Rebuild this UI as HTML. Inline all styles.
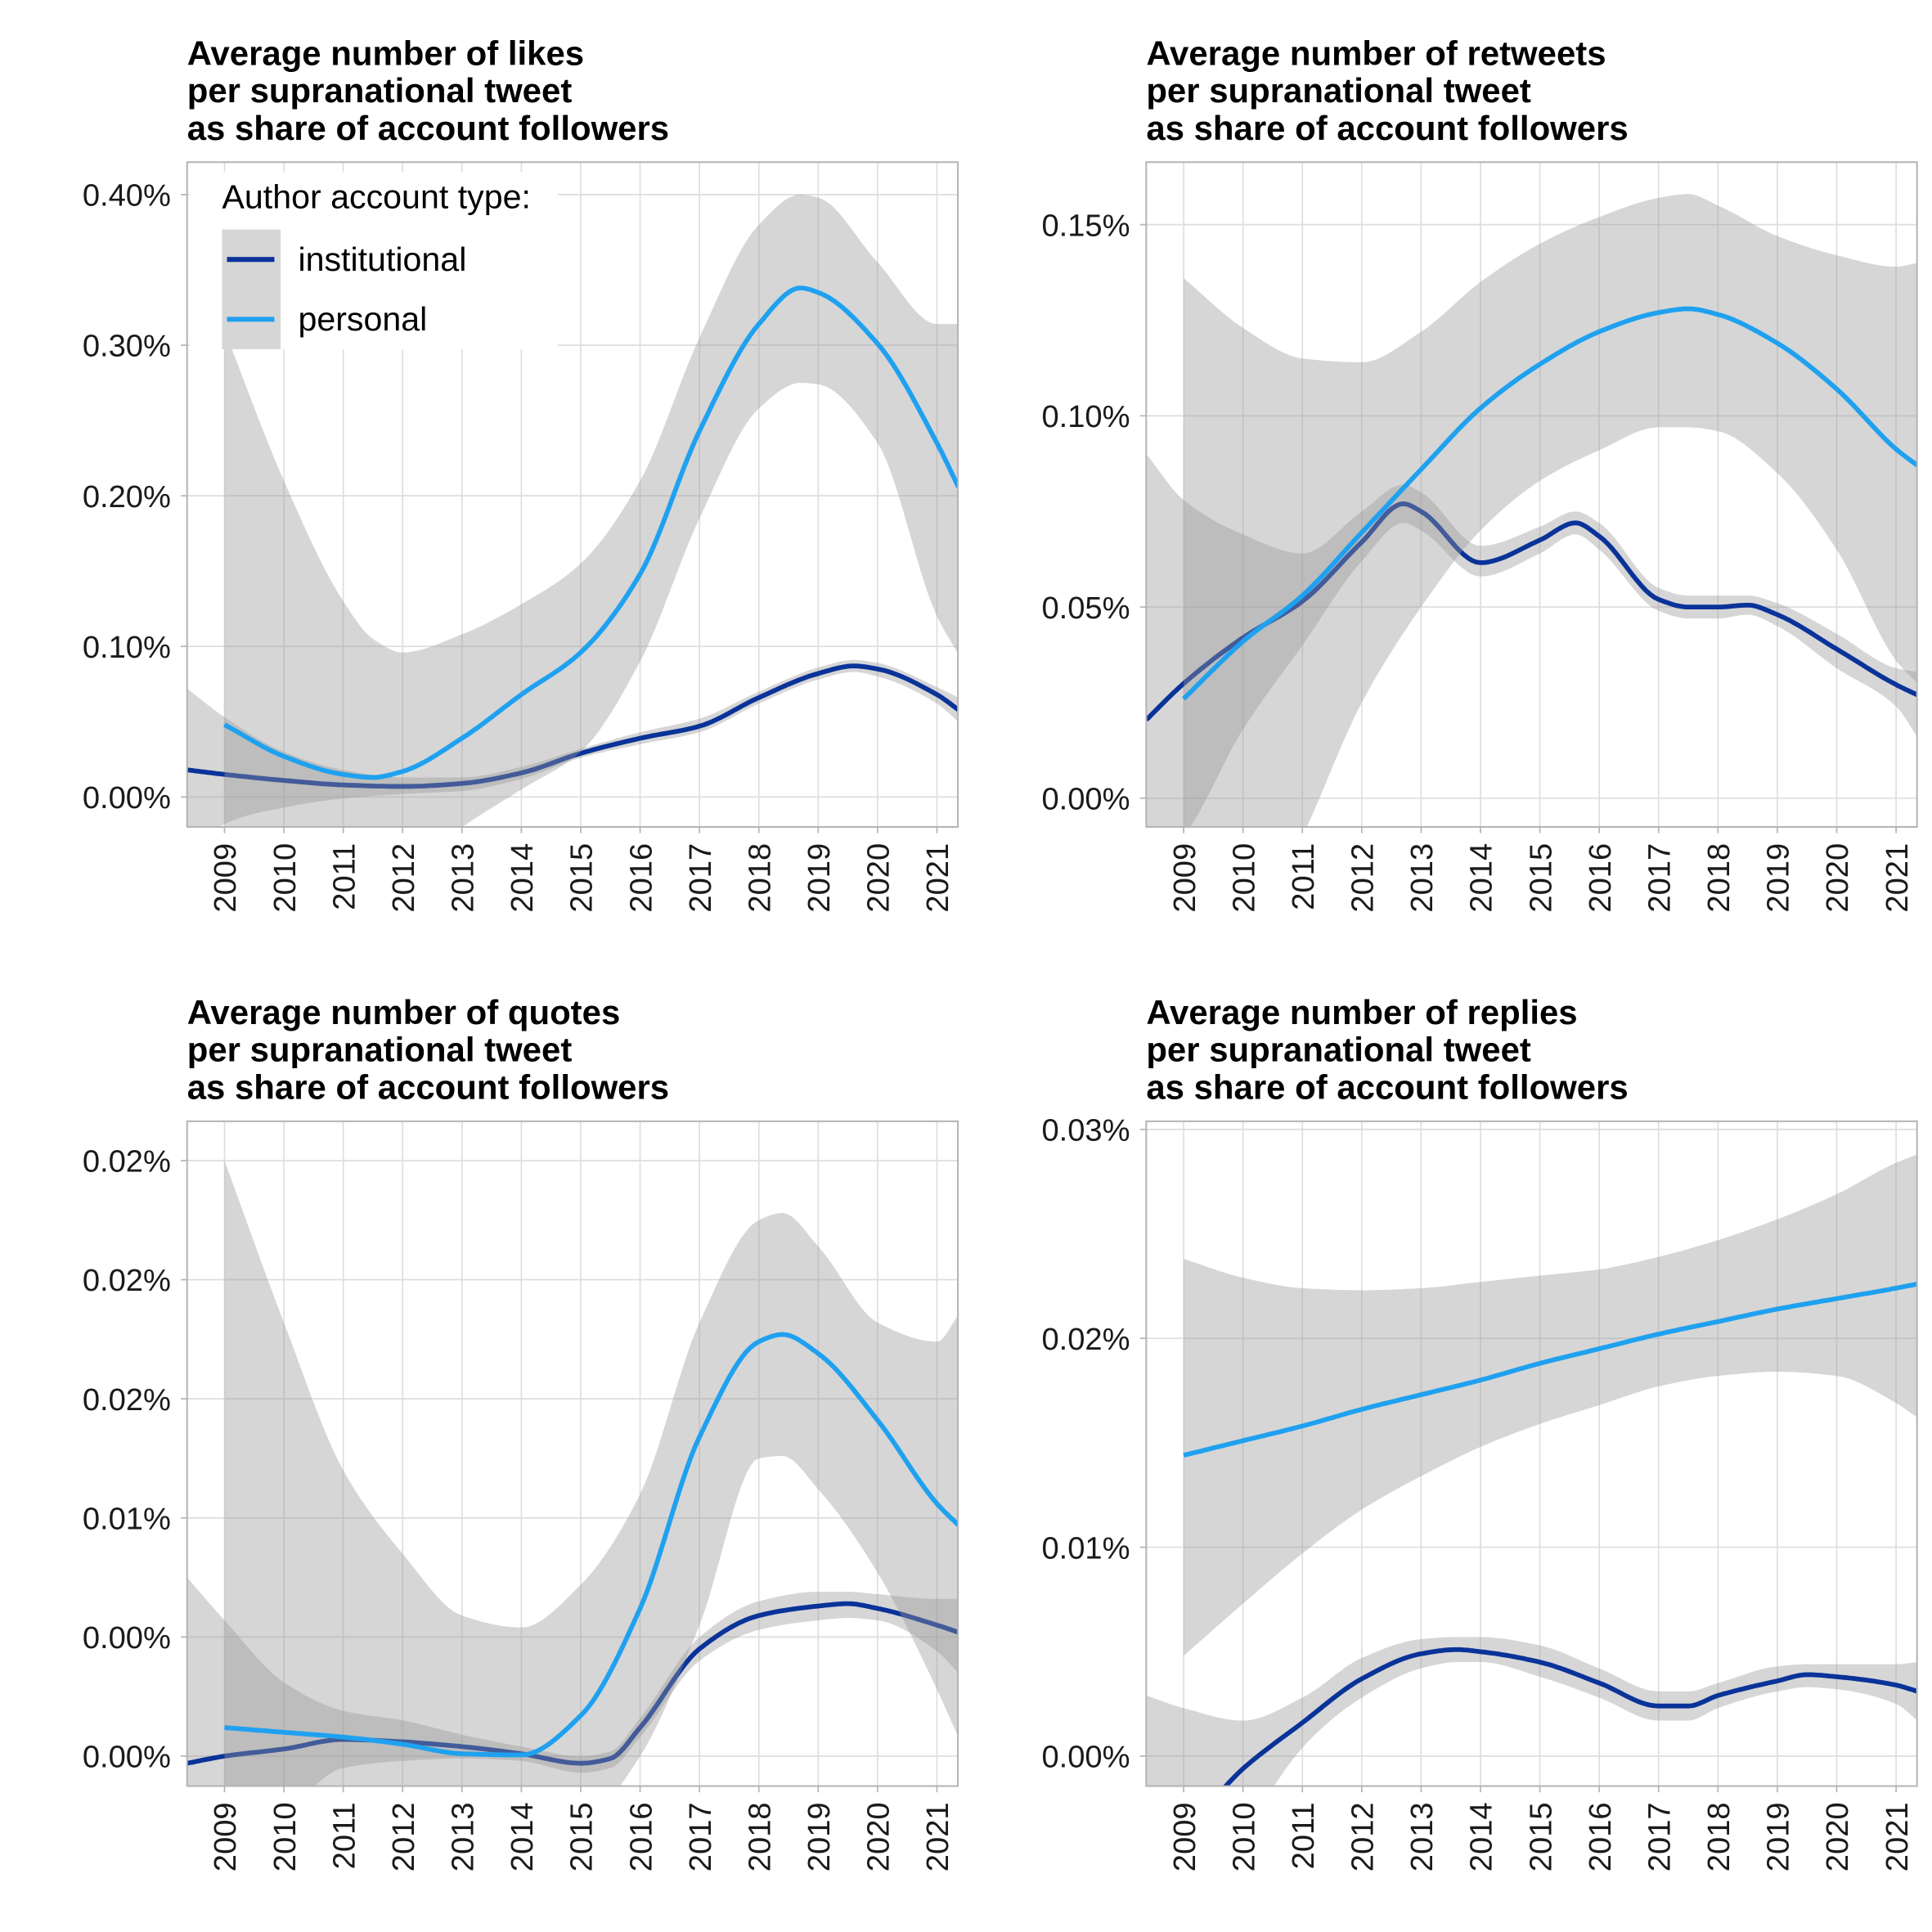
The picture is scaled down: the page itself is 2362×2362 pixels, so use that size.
<!DOCTYPE html>
<html><head><meta charset="utf-8"><style>
html,body{margin:0;padding:0;background:#fff;overflow:hidden;width:2362px;height:2362px}
svg{display:block}
text{font-family:"Liberation Sans",Arial,sans-serif}
</style></head><body>
<svg id="chart" width="2362" height="2362" viewBox="0 0 1549 1549" xmlns="http://www.w3.org/2000/svg"></svg>
<script>
// ---------- data ----------
const years = [2009,2010,2011,2012,2013,2014,2015,2016,2017,2018,2019,2020,2021];

// Panel 1: likes (%)
const likesInstX = [2008.37,2009,2010,2011,2012,2013,2014,2015,2016,2017,2018,2019,2019.6,2020,2021,2021.36];
const likesInstY = [0.018,0.015,0.011,0.008,0.007,0.009,0.016,0.029,0.039,0.047,0.066,0.082,0.087,0.085,0.068,0.058];
const likesInstHi = [0.072,0.053,0.030,0.018,0.013,0.013,0.020,0.032,0.043,0.052,0.070,0.086,0.091,0.089,0.073,0.066];
const likesInstLo = [-0.05,-0.018,-0.007,-0.001,0.002,0.004,0.012,0.026,0.035,0.043,0.062,0.078,0.083,0.080,0.062,0.050];
const likesPersX = [2009,2010,2011,2011.5,2012,2013,2014,2015,2016,2017,2018,2018.7,2019,2020,2021,2021.36];
const likesPersY = [0.048,0.027,0.015,0.013,0.017,0.039,0.068,0.096,0.148,0.243,0.314,0.338,0.335,0.301,0.235,0.206];
const likesPersHi = [0.31,0.21,0.13,0.105,0.096,0.108,0.128,0.155,0.21,0.305,0.38,0.40,0.398,0.355,0.314,0.314];
const likesPersLo = [-0.02,-0.05,-0.06,-0.06,-0.05,-0.02,0.005,0.03,0.09,0.185,0.258,0.275,0.274,0.235,0.12,0.095];

// Panel 2: retweets (%)
const rtInstX = [2008.37,2009,2010,2011,2012,2012.7,2013,2014,2015,2015.6,2016,2017,2017.5,2018,2018.5,2019,2020,2021,2021.36];
const rtInstY = [0.0205,0.030,0.042,0.0515,0.067,0.077,0.075,0.0616,0.0675,0.072,0.0685,0.052,0.050,0.050,0.0505,0.048,0.039,0.0297,0.027];
const rtInstHi = [0.090,0.078,0.069,0.064,0.075,0.082,0.080,0.066,0.071,0.075,0.072,0.055,0.053,0.053,0.053,0.051,0.043,0.034,0.033];
const rtInstLo = [-0.02,-0.01,0.018,0.040,0.062,0.072,0.070,0.058,0.064,0.069,0.065,0.049,0.047,0.047,0.048,0.045,0.034,0.024,0.016];
const rtPersX = [2009,2010,2011,2012,2013,2014,2015,2016,2017,2017.5,2018,2019,2020,2021,2021.36];
const rtPersY = [0.026,0.041,0.053,0.0695,0.086,0.102,0.1135,0.122,0.127,0.128,0.1265,0.119,0.107,0.0913,0.087];
const rtPersHi = [0.136,0.123,0.115,0.114,0.122,0.135,0.145,0.152,0.157,0.158,0.155,0.147,0.142,0.139,0.140];
const rtPersLo = [-0.06,-0.04,-0.01,0.025,0.050,0.070,0.083,0.091,0.097,0.097,0.096,0.085,0.065,0.036,0.030];

// Panel 3: quotes (%)
const qInstX = [2008.37,2009,2010,2011,2012,2013,2014,2015,2015.5,2016,2017,2018,2019,2019.5,2020,2021,2021.36];
const qInstY = [-0.0003,0,0.0003,0.0007,0.0006,0.0004,0.0001,-0.0003,-0.0001,0.0012,0.0045,0.0059,0.0063,0.0064,0.0062,0.0055,0.0052];
const qInstHi = [0.0075,0.0057,0.0031,0.0019,0.0015,0.0009,0.0004,0.0,0.0002,0.0016,0.005,0.0065,0.0069,0.0069,0.0068,0.0066,0.0066];
const qInstLo = [-0.009,-0.005,-0.0025,-0.0005,-0.0002,-0.0001,-0.0002,-0.0007,-0.0005,0.0008,0.004,0.0053,0.0057,0.0058,0.0057,0.0044,0.0035];
const qPersX = [2009,2010,2011,2012,2013,2014,2015,2016,2017,2018,2018.4,2019,2020,2021,2021.36];
const qPersY = [0.0012,0.001,0.0008,0.0005,0.0001,0.00005,0.0017,0.0062,0.0134,0.0174,0.0177,0.0169,0.0141,0.0106,0.0097];
const qPersHi = [0.025,0.0182,0.012,0.0085,0.0059,0.0054,0.0072,0.011,0.0182,0.0225,0.0228,0.0214,0.0182,0.0174,0.0185];
const qPersLo = [-0.02,-0.012,-0.008,-0.006,-0.005,-0.004,-0.003,0.0,0.0055,0.0125,0.0126,0.0112,0.0077,0.0028,0.0008];

// Panel 4: replies (%)
const rpInstX = [2008.37,2009,2010,2011,2012,2013,2013.6,2014,2015,2016,2017,2017.5,2018,2019,2019.5,2020,2021,2021.36];
const rpInstY = [-0.0045,-0.0035,-0.0006,0.0016,0.0037,0.0049,0.0051,0.005,0.0045,0.0035,0.0024,0.0024,0.0029,0.0036,0.0039,0.0038,0.0034,0.0031];
const rpInstHi = [0.0029,0.0023,0.0017,0.0028,0.0047,0.0056,0.0057,0.0057,0.0053,0.0042,0.0031,0.0031,0.0035,0.0043,0.0044,0.0044,0.0044,0.0045];
const rpInstLo = [-0.012,-0.01,-0.004,0.0004,0.0028,0.0042,0.0045,0.0045,0.0038,0.0028,0.0017,0.0017,0.0023,0.0031,0.0033,0.0032,0.0025,0.0017];
const rpPersX = [2009,2010,2011,2012,2013,2014,2015,2016,2017,2018,2019,2020,2021,2021.36];
const rpPersY = [0.0144,0.0151,0.0158,0.0166,0.0173,0.0180,0.0188,0.0195,0.0202,0.0208,0.0214,0.0219,0.0224,0.0226];
const rpPersHi = [0.0238,0.0229,0.0224,0.0223,0.0224,0.0227,0.0230,0.0233,0.0239,0.0247,0.0257,0.0269,0.0284,0.0288];
const rpPersLo = [0.0048,0.0073,0.0097,0.0118,0.0134,0.0148,0.0159,0.0168,0.0177,0.0182,0.0184,0.0182,0.0169,0.0162];

const likesTicks = [0,0.1,0.2,0.3,0.4];
const likesLabels = ["0.00%","0.10%","0.20%","0.30%","0.40%"];
const rtTicks = [0,0.05,0.10,0.15];
const rtLabels = ["0.00%","0.05%","0.10%","0.15%"];
const qTicks = [0,0.005,0.01,0.015,0.02,0.025];
const qLabels = ["0.00%","0.00%","0.01%","0.02%","0.02%","0.02%"];
const rpTicks = [0,0.01,0.02,0.03];
const rpLabels = ["0.00%","0.01%","0.02%","0.03%"];

// ---------- drawing ----------
const NS = "http://www.w3.org/2000/svg";
const svg = document.getElementById("chart");
function mk(tag, attrs, parent){
  const e = document.createElementNS(NS, tag);
  for (const k in attrs) e.setAttribute(k, attrs[k]);
  (parent||svg).appendChild(e);
  return e;
}
function interp(xs, ys){
  const n = xs.length, d = [], m = [];
  for (let i=0;i<n-1;i++) d.push((ys[i+1]-ys[i])/(xs[i+1]-xs[i]));
  m[0]=d[0]; m[n-1]=d[n-2];
  for (let i=1;i<n-1;i++){
    if (d[i-1]*d[i] <= 0) m[i]=0;
    else { const h0=xs[i]-xs[i-1], h1=xs[i+1]-xs[i];
      const w1=2*h1+h0, w2=h1+2*h0;
      m[i]=(w1+w2)/(w1/d[i-1]+w2/d[i]); }
  }
  const out=[];
  for (let i=0;i<n-1;i++){
    const h=xs[i+1]-xs[i];
    for (let s=0;s<14;s++){
      const t=s/14, t2=t*t, t3=t2*t;
      const y=(2*t3-3*t2+1)*ys[i]+(t3-2*t2+t)*h*m[i]+(-2*t3+3*t2)*ys[i+1]+(t3-t2)*h*m[i+1];
      out.push([xs[i]+t*h, y]);
    }
  }
  out.push([xs[n-1], ys[n-1]]);
  return out;
}
let clipId = 0;
function panel(p){
  const g = mk("g", {});
  
  
  const L=p.left, R=p.left+618, T=p.top, B=p.top+533;
  const x0yr = 2009, x0px = L+30, pxPerYr = 47.6;
  const sx = yr => x0px + (yr - x0yr)*pxPerYr;
  const sy = v => p.zeroY - v*p.pxPerUnit;
  const cy = v => Math.max(T-4, Math.min(B+4, sy(v)));
  const title = mk("text", {x:L, y:p.top-78, "font-size":27.5, "font-weight":"bold", fill:"#000"}, g);
  
  
  p.title.forEach((ln,i)=>{ const ts=mk("tspan",{x:L, dy: i===0?0:30},title); ts.textContent=ln; });
  p.ticks.forEach((v,i)=>{
    const gl = mk("line",{x1:L,x2:R,y1:sy(v),y2:sy(v),stroke:"#dedede","stroke-width":1.1},g);
    
    
    mk("line",{x1:L-5,x2:L,y1:sy(v),y2:sy(v),stroke:"#b3b3b3","stroke-width":1.1},g);
    const t = mk("text",{x:L-13,y:sy(v)+9,"text-anchor":"end","font-size":25,fill:"#1a1a1a"},g);
    
    
    t.textContent = p.labels[i];
  });
  years.forEach(yr=>{
    const x = sx(yr);
    const gl = mk("line",{x1:x,x2:x,y1:T,y2:B,stroke:"#dedede","stroke-width":1.1},g);
    
    
    mk("line",{x1:x,x2:x,y1:B,y2:B+5,stroke:"#b3b3b3","stroke-width":1.1},g);
    const t = mk("text",{x:0,y:0,"text-anchor":"end","font-size":25,fill:"#1a1a1a",transform:`translate(${x+9},${B+13}) rotate(-90)`},g);
    
    
    t.textContent = yr;
  });
  const id = "clip"+(clipId++);
  const cp = mk("clipPath",{id},g); mk("rect",{x:L,y:T,width:618,height:533},cp);
  const dg = mk("g",{"clip-path":`url(#${id})`},g);
  p.series.forEach(s=>{
    const hi = interp(s.x, s.hi), lo = interp(s.x, s.lo).reverse();
    const pts = hi.concat(lo).map(q=>sx(q[0]).toFixed(1)+","+cy(q[1]).toFixed(1)).join(" ");
    const band = mk("polygon",{points:pts, fill:"#999999","fill-opacity":0.4},dg);
    
    
    const ln = interp(s.x, s.y).map(q=>sx(q[0]).toFixed(1)+","+cy(q[1]).toFixed(1)).join(" ");
    const line = mk("polyline",{points:ln, fill:"none", stroke:s.color, "stroke-width":3.8, "stroke-linejoin":"round"},dg);
    
    
  });
  const border = mk("rect",{x:L,y:T,width:618,height:533,fill:"none",stroke:"#b3b3b3","stroke-width":1.3},g);
  
  
  return g;
}
const INST="#0a3399", PERS="#1fa1f0";
panel({name:"likes-panel", left:150, top:130, zeroY:639, pxPerUnit:1207.5, ticks:likesTicks, labels:likesLabels,
  title:["Average number of likes","per supranational tweet","as share of account followers"],
  series:[{key:"institutional",x:likesInstX,y:likesInstY,hi:likesInstHi,lo:likesInstLo,color:INST},
          {key:"personal",x:likesPersX,y:likesPersY,hi:likesPersHi,lo:likesPersLo,color:PERS}]});
panel({name:"retweets-panel", left:919, top:130, zeroY:640, pxPerUnit:3066, ticks:rtTicks, labels:rtLabels,
  title:["Average number of retweets","per supranational tweet","as share of account followers"],
  series:[{key:"institutional",x:rtInstX,y:rtInstY,hi:rtInstHi,lo:rtInstLo,color:INST},
          {key:"personal",x:rtPersX,y:rtPersY,hi:rtPersHi,lo:rtPersLo,color:PERS}]});
panel({name:"quotes-panel", left:150, top:899, zeroY:1408, pxPerUnit:19100, ticks:qTicks, labels:qLabels,
  title:["Average number of quotes","per supranational tweet","as share of account followers"],
  series:[{key:"institutional",x:qInstX,y:qInstY,hi:qInstHi,lo:qInstLo,color:INST},
          {key:"personal",x:qPersX,y:qPersY,hi:qPersHi,lo:qPersLo,color:PERS}]});
panel({name:"replies-panel", left:919, top:899, zeroY:1408, pxPerUnit:16750, ticks:rpTicks, labels:rpLabels,
  title:["Average number of replies","per supranational tweet","as share of account followers"],
  series:[{key:"institutional",x:rpInstX,y:rpInstY,hi:rpInstHi,lo:rpInstLo,color:INST},
          {key:"personal",x:rpPersX,y:rpPersY,hi:rpPersHi,lo:rpPersLo,color:PERS}]});

const lg = mk("g",{});


mk("rect",{x:152,y:138,width:295,height:142,fill:"#fff"},lg);
const lt = mk("text",{x:178,y:167,"font-size":27,fill:"#000"},lg); lt.textContent="Author account type:";


[["institutional",INST,208],["personal",PERS,256]].forEach(e=>{
  const k = mk("rect",{x:178,y:e[2]-24,width:47,height:48,fill:"#d6d6d6"},lg);
  
  
  mk("line",{x1:182,x2:220,y1:e[2],y2:e[2],stroke:e[1],"stroke-width":4},lg);
  const t = mk("text",{x:239,y:e[2]+9,"font-size":27,fill:"#000"},lg); t.textContent=e[0];
  
  
});
</script>
</body></html>
